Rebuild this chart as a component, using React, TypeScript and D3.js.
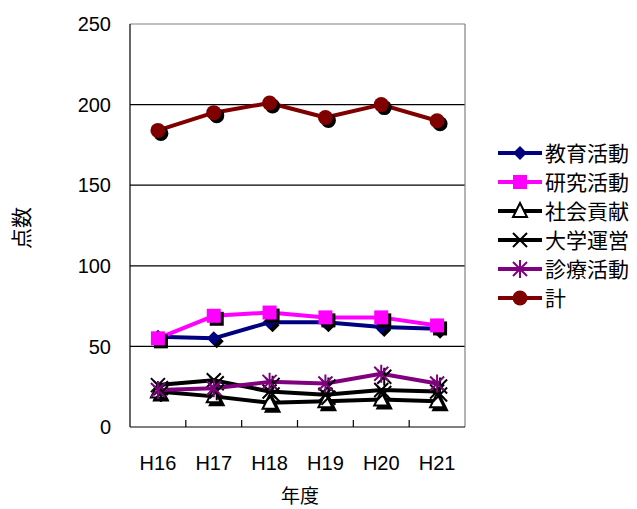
import React from "react";
import * as d3 from "d3";

const years = ["H16", "H17", "H18", "H19", "H20", "H21"];
const yTicks = [0, 50, 100, 150, 200, 250];

const education = [56, 55, 65, 65, 62, 61];
const research = [55, 69, 71, 68, 68, 63];
const social = [22, 19, 15, 16, 17, 16];
const management = [26, 29, 22, 20, 23, 22];
const medical = [23, 24, 28, 27, 33, 27];
const total = [184, 195, 201, 192, 200, 190];

const seriesNames = ["教育活動", "研究活動", "社会貢献", "大学運営", "診療活動", "計"];
const seriesColors = ["#000080", "#FF00FF", "#000000", "#000000", "#800080", "#800000"];
const seriesMarkers = ["diamond", "square", "triangle", "x", "star", "circle"];

const W = 637;
const H = 509;
const plot = { left: 130, right: 465, top: 24, bottom: 427 };

const JP = "'Noto Sans CJK JP', 'Noto Sans', sans-serif";
const NUM = "'Liberation Sans', Arial, sans-serif";

function Marker({ kind, x, y, color, shadow }: { kind: string; x: number; y: number; color: string; shadow?: boolean }) {
  const c = shadow ? "#000" : color;
  switch (kind) {
    case "diamond":
      return <path d={`M${x},${y - 7}L${x + 7},${y}L${x},${y + 7}L${x - 7},${y}Z`} fill={c} />;
    case "square":
      return <rect x={x - 7} y={y - 7} width={14} height={14} fill={c} />;
    case "triangle":
      return (
        <path
          d={`M${x},${y - 8}L${x + 7},${y + 6}L${x - 7},${y + 6}Z`}
          fill={shadow ? "#000" : "#fff"}
          stroke="#000"
          strokeWidth={2}
        />
      );
    case "x":
      return (
        <path
          d={`M${x - 7},${y - 7}L${x + 7},${y + 7}M${x + 7},${y - 7}L${x - 7},${y + 7}`}
          stroke={c}
          strokeWidth={2}
        />
      );
    case "star":
      return (
        <path
          d={`M${x - 7},${y - 7}L${x + 7},${y + 7}M${x + 7},${y - 7}L${x - 7},${y + 7}M${x},${y - 9}L${x},${y + 9}`}
          stroke={c}
          strokeWidth={2}
        />
      );
    default:
      return <circle cx={x} cy={y} r={7.5} fill={c} />;
  }
}

export default function App() {
  const data = [education, research, social, management, medical, total];

  const x = d3.scaleBand<string>().domain(years).range([plot.left, plot.right]);
  const y = d3.scaleLinear().domain([0, 250]).range([plot.bottom, plot.top]);

  const line = d3
    .line<number>()
    .x((_, i) => (x(years[i]) as number) + x.bandwidth() / 2)
    .y((v) => y(v));

  const catBounds = years.slice(1).map((yr) => x(yr) as number);

  const legendX = 498;
  const legendY0 = 153;
  const legendStep = 29;

  return (
    <svg width={W} height={H} style={{ position: "absolute", left: 0, top: 0, background: "#fff" }}>
      {/* gridlines */}
      {yTicks.slice(1, -1).map((t) => (
        <line key={t} x1={plot.left} x2={plot.right} y1={y(t)} y2={y(t)} stroke="#000" strokeWidth={1.2} />
      ))}
      {/* plot frame */}
      <line x1={plot.left} x2={plot.right} y1={plot.top} y2={plot.top} stroke="#808080" strokeWidth={1.2} />
      <line x1={plot.right} x2={plot.right} y1={plot.top} y2={plot.bottom} stroke="#808080" strokeWidth={1.2} />
      <line x1={plot.left} x2={plot.left} y1={plot.top} y2={plot.bottom} stroke="#000" strokeWidth={1.2} />
      <line x1={plot.left} x2={plot.right} y1={plot.bottom} y2={plot.bottom} stroke="#000" strokeWidth={1.2} />
      {catBounds.map((bx, i) => (
        <line key={i} x1={bx} x2={bx} y1={plot.bottom} y2={plot.bottom - 7} stroke="#000" strokeWidth={1.2} />
      ))}

      {/* y tick labels */}
      {yTicks.map((t) => (
        <text key={t} x={111} y={y(t)} dy="0.36em" textAnchor="end" fontFamily={NUM} fontSize={20} fill="#000">
          {t}
        </text>
      ))}
      {/* x tick labels */}
      {years.map((yr) => (
        <text
          key={yr}
          x={(x(yr) as number) + x.bandwidth() / 2}
          y={470}
          textAnchor="middle"
          fontFamily={NUM}
          fontSize={20}
          fill="#000"
        >
          {yr}
        </text>
      ))}
      <text x={300} y={496} dy="0.36em" textAnchor="middle" fontFamily={JP} fontSize={19} fill="#000">
        年度
      </text>
      <text
        transform={`translate(21,228) rotate(-90)`}
        textAnchor="middle"
        dy="0.36em"
        fontFamily={JP}
        fontSize={21}
        fill="#000"
      >
        点数
      </text>

      {/* series */}
      {data.map((vals, si) => (
        <g key={si}>
          <path d={line(vals) ?? ""} fill="none" stroke={seriesColors[si]} strokeWidth={4} strokeLinejoin="round" />
          {vals.map((v, i) => {
            const cx = (x(years[i]) as number) + x.bandwidth() / 2;
            return (
              <g key={i}>
                <Marker kind={seriesMarkers[si]} x={cx + 3} y={y(v) + 3} color={seriesColors[si]} shadow />
                <Marker kind={seriesMarkers[si]} x={cx} y={y(v)} color={seriesColors[si]} />
              </g>
            );
          })}
        </g>
      ))}

      {/* legend */}
      {seriesNames.map((name, i) => {
        const ly = legendY0 + i * legendStep;
        return (
          <g key={name}>
            <line x1={legendX} x2={legendX + 44} y1={ly} y2={ly} stroke={seriesColors[i]} strokeWidth={4} />
            <Marker kind={seriesMarkers[i]} x={legendX + 22} y={ly} color={seriesColors[i]} />
            <text x={legendX + 47} y={ly} dy="0.36em" fontFamily={JP} fontSize={21} fill="#000">
              {name}
            </text>
          </g>
        );
      })}
    </svg>
  );
}
